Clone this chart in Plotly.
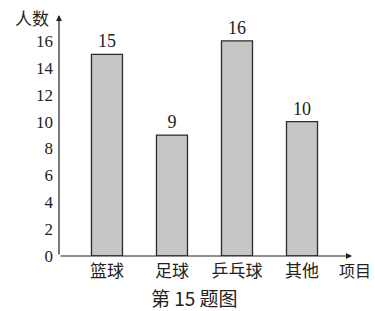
import plotly.graph_objects as go

categories = ["篮球", "足球", "乒乓球", "其他"]
values = [15, 9, 16, 10]
y_ticks = [0, 2, 4, 6, 8, 10, 12, 14, 16]

serif = "Liberation Serif, DejaVu Serif, serif"
cjk = "Noto Sans CJK SC, serif"
ink = "#222222"

# plot area in pixels: left 59, right 352, top 15, bottom 256
def px_x(px):
    return (px - 59) / 293

def px_y(py):
    return (256 - py) / 241

fig = go.Figure()
fig.add_trace(go.Bar(
    x=list(range(len(categories))), y=values,
    width=0.477,
    marker=dict(color="#c6c6c6", line=dict(color="#2a2a2a", width=1.3)),
    text=[str(v) for v in values], textposition="outside",
    textfont=dict(family=serif, size=18, color=ink),
    cliponaxis=False,
))

fig.update_layout(
    width=375, height=311,
    margin=dict(l=59, r=23, t=15, b=55),
    paper_bgcolor="white", plot_bgcolor="white",
    showlegend=False,
    xaxis=dict(range=[-0.738, 3.769], tickmode="array",
               tickvals=list(range(len(categories))), ticktext=categories,
               showgrid=False, zeroline=False, showline=False, ticks="",
               tickfont=dict(family=cjk, size=17, color=ink),
               ticklabelstandoff=3, fixedrange=True),
    yaxis=dict(range=[0, 17.93], tickmode="array", tickvals=y_ticks,
               ticktext=[str(t) for t in y_ticks],
               showgrid=False, zeroline=False, showline=False, ticks="",
               tickfont=dict(family=serif, size=17, color=ink),
               ticklabelstandoff=5, fixedrange=True),
)

# axes with arrows
fig.add_annotation(x=0, y=1, ax=0, ay=0, xref="x domain", yref="y domain",
                   axref="x domain", ayref="y domain", showarrow=True,
                   arrowhead=2, arrowsize=1, arrowwidth=1.2, arrowcolor=ink, text="")
fig.add_annotation(x=1, y=0, ax=0, ay=0, xref="x domain", yref="y domain",
                   axref="x domain", ayref="y domain", showarrow=True,
                   arrowhead=2, arrowsize=1, arrowwidth=1.2, arrowcolor=ink, text="")

fig.add_annotation(x=px_x(51), y=px_y(18), xref="paper", yref="paper", xanchor="right",
                   yanchor="middle", text="人数", showarrow=False,
                   font=dict(family=cjk, size=17, color=ink))
fig.add_annotation(x=px_x(373), y=px_y(270), xref="paper", yref="paper",
                   xanchor="right", yanchor="middle", text="项目", showarrow=False,
                   font=dict(family=cjk, size=16, color=ink))
fig.add_annotation(x=px_x(194), y=px_y(297), xref="paper", yref="paper",
                   xanchor="center", yanchor="middle", text="第 15 题图", showarrow=False,
                   font=dict(family=cjk, size=19, color=ink))

fig.write_html("out.html")
